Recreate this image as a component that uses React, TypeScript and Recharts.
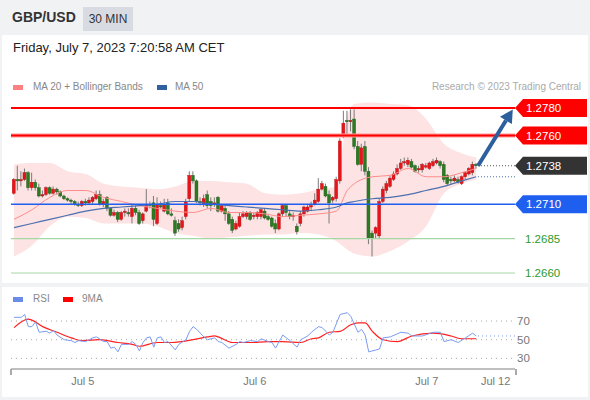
import React from 'react';
import { ComposedChart, Bar, Line, Area, XAxis, YAxis, ReferenceLine } from 'recharts';

const FONT = 'Arial, "Liberation Sans", Helvetica, sans-serif';

// 30 min candles [open, high, low, close]
const candles: number[][] = [
  [1.2718, 1.2729, 1.2717, 1.2728], [1.2728, 1.2738, 1.272, 1.2727], [1.2727, 1.2734, 1.2723, 1.2728],
  [1.2728, 1.2736, 1.2727, 1.2733], [1.2733, 1.2734, 1.272, 1.2722], [1.2722, 1.2733, 1.272, 1.2726],
  [1.2726, 1.2728, 1.272, 1.2722], [1.2722, 1.2725, 1.2715, 1.2716], [1.2716, 1.272, 1.2715, 1.2717],
  [1.2717, 1.2723, 1.2716, 1.2722], [1.2722, 1.2723, 1.2717, 1.2718], [1.2718, 1.2723, 1.2717, 1.2721],
  [1.2721, 1.2722, 1.2717, 1.2719], [1.2719, 1.272, 1.2715, 1.2716], [1.2716, 1.2717, 1.2713, 1.2714],
  [1.2714, 1.2715, 1.2712, 1.2713], [1.2713, 1.2714, 1.271, 1.2712], [1.2712, 1.2713, 1.2709, 1.271],
  [1.271, 1.2712, 1.2708, 1.2709], [1.2709, 1.2713, 1.2708, 1.2712], [1.2712, 1.2714, 1.2709, 1.2711],
  [1.2711, 1.2715, 1.271, 1.2713], [1.2712, 1.2716, 1.271, 1.2715], [1.2714, 1.272, 1.2713, 1.2717],
  [1.2717, 1.272, 1.2709, 1.271], [1.271, 1.2714, 1.2708, 1.2712], [1.2715, 1.2716, 1.2705, 1.2707],
  [1.2707, 1.2708, 1.2701, 1.2702], [1.2702, 1.2706, 1.2701, 1.2704], [1.2704, 1.2705, 1.2697, 1.2699],
  [1.2699, 1.2705, 1.2698, 1.2704], [1.2704, 1.2707, 1.2701, 1.2705], [1.2704, 1.2707, 1.2701, 1.2703],
  [1.2701, 1.271, 1.2696, 1.2707], [1.2707, 1.2709, 1.2702, 1.2704], [1.2704, 1.2706, 1.2695, 1.2696],
  [1.2698, 1.2704, 1.2696, 1.2703], [1.2705, 1.2721, 1.2704, 1.271], [1.271, 1.2712, 1.2707, 1.2709],
  [1.2711, 1.2716, 1.2694, 1.2699], [1.2696, 1.2715, 1.2695, 1.271], [1.2709, 1.2712, 1.2707, 1.2708],
  [1.2705, 1.2714, 1.2704, 1.271], [1.2711, 1.2714, 1.2702, 1.2703], [1.2703, 1.2707, 1.2701, 1.2702],
  [1.2698, 1.2701, 1.2687, 1.2689], [1.2696, 1.2699, 1.269, 1.2692], [1.2693, 1.2701, 1.2691, 1.2698],
  [1.2701, 1.2714, 1.2699, 1.2712], [1.2714, 1.2734, 1.2712, 1.2731], [1.2731, 1.2734, 1.2725, 1.2727],
  [1.2727, 1.2728, 1.2711, 1.2712], [1.2712, 1.2715, 1.2709, 1.2711], [1.271, 1.2717, 1.2708, 1.2714],
  [1.2717, 1.272, 1.2707, 1.2709], [1.2712, 1.2715, 1.2705, 1.2709], [1.271, 1.2715, 1.2708, 1.2711],
  [1.2715, 1.2716, 1.2704, 1.2705], [1.2705, 1.271, 1.2704, 1.2709], [1.2707, 1.2709, 1.2698, 1.2703],
  [1.2703, 1.2705, 1.2695, 1.2696], [1.2699, 1.2701, 1.2689, 1.2691], [1.2692, 1.2698, 1.2691, 1.2696],
  [1.2694, 1.2704, 1.2693, 1.2701], [1.2701, 1.2705, 1.27, 1.2703], [1.2701, 1.2705, 1.2699, 1.2704],
  [1.2704, 1.2705, 1.2698, 1.2699], [1.2701, 1.2704, 1.2699, 1.2702], [1.2701, 1.2705, 1.2699, 1.2704],
  [1.2701, 1.2707, 1.2699, 1.2706], [1.2705, 1.2707, 1.2699, 1.27], [1.2701, 1.2703, 1.2698, 1.2699],
  [1.27, 1.2701, 1.2693, 1.2694], [1.2696, 1.2699, 1.2689, 1.2692], [1.2692, 1.2704, 1.2691, 1.2703],
  [1.2703, 1.271, 1.2701, 1.2709], [1.2709, 1.271, 1.2701, 1.2704], [1.2703, 1.2705, 1.2699, 1.2701],
  [1.2701, 1.2704, 1.2698, 1.2702], [1.2694, 1.2696, 1.2688, 1.269], [1.2696, 1.2705, 1.2694, 1.2703],
  [1.2703, 1.2709, 1.2701, 1.2708], [1.2705, 1.271, 1.2704, 1.2708], [1.2708, 1.2712, 1.2705, 1.2709],
  [1.271, 1.2718, 1.2709, 1.2713], [1.2712, 1.2729, 1.2711, 1.2721], [1.2721, 1.2727, 1.272, 1.2725],
  [1.2723, 1.2725, 1.2715, 1.2716], [1.2717, 1.272, 1.2696, 1.2711], [1.2713, 1.2716, 1.2711, 1.2715],
  [1.2714, 1.273, 1.2712, 1.2728], [1.2727, 1.2758, 1.2725, 1.2756], [1.276, 1.2778, 1.2758, 1.2769],
  [1.2771, 1.2778, 1.276, 1.277], [1.277, 1.2779, 1.2763, 1.2771], [1.2772, 1.2779, 1.275, 1.2752],
  [1.2752, 1.2756, 1.2738, 1.2739], [1.2739, 1.2754, 1.2734, 1.2751], [1.2752, 1.2756, 1.2731, 1.2734],
  [1.2734, 1.2737, 1.2681, 1.2685], [1.2689, 1.2691, 1.2672, 1.2685], [1.2689, 1.2694, 1.2685, 1.2693],
  [1.2687, 1.2714, 1.2685, 1.2712], [1.2712, 1.2723, 1.2711, 1.2721], [1.272, 1.2727, 1.2718, 1.2725],
  [1.2723, 1.2731, 1.2722, 1.2729], [1.2728, 1.2734, 1.2727, 1.2732], [1.2732, 1.2739, 1.2731, 1.2736],
  [1.2736, 1.2743, 1.2735, 1.274], [1.274, 1.2744, 1.2738, 1.2741], [1.2739, 1.2744, 1.2737, 1.2742],
  [1.2741, 1.2743, 1.2736, 1.2737], [1.2738, 1.2739, 1.2733, 1.2734], [1.2735, 1.2738, 1.2733, 1.2736],
  [1.2735, 1.274, 1.2733, 1.2739], [1.2737, 1.274, 1.2736, 1.2738], [1.2736, 1.2741, 1.2735, 1.274],
  [1.2738, 1.2743, 1.2737, 1.2741], [1.274, 1.2744, 1.2739, 1.2742], [1.2741, 1.2742, 1.2736, 1.2738],
  [1.2739, 1.2741, 1.2726, 1.2728], [1.2731, 1.2732, 1.2724, 1.2725], [1.2728, 1.273, 1.2725, 1.2727],
  [1.2727, 1.2731, 1.2726, 1.2729], [1.2728, 1.273, 1.2725, 1.2726], [1.2725, 1.2731, 1.2724, 1.273],
  [1.273, 1.2734, 1.2728, 1.2733], [1.2732, 1.2737, 1.2731, 1.2736], [1.2733, 1.2741, 1.2731, 1.2739],
  [1.2739, 1.274, 1.2736, 1.2738],
];

// indicator readings at these candle indexes
const bandIdx = [0, 5, 10, 15, 20, 25, 30, 35, 40, 45, 50, 55, 60, 65, 70, 75, 80, 85, 90, 93, 95, 100, 105, 110, 115, 120, 125, 129];
const bbUpper = [1.2739, 1.274, 1.274, 1.2734, 1.2732, 1.2725, 1.2723, 1.2722, 1.2721, 1.2723, 1.2727, 1.2727, 1.2726, 1.2725, 1.2718, 1.2717, 1.2718, 1.2721, 1.2723, 1.2774, 1.2783, 1.2784, 1.2783, 1.2782, 1.2772, 1.2754, 1.2747, 1.2744];
const bbLower = [1.2672, 1.268, 1.2694, 1.2701, 1.27, 1.2696, 1.2696, 1.2696, 1.2694, 1.2689, 1.2687, 1.2685, 1.2686, 1.2687, 1.2688, 1.2688, 1.2689, 1.2688, 1.2683, 1.2677, 1.2674, 1.2672, 1.2676, 1.2683, 1.2694, 1.2718, 1.2725, 1.2728];
const ma20 = [1.2699, 1.2706, 1.2715, 1.272, 1.272, 1.2715, 1.2712, 1.2709, 1.2707, 1.2705, 1.2704, 1.2707, 1.2704, 1.2704, 1.2703, 1.2701, 1.2702, 1.2703, 1.2705, 1.272, 1.2725, 1.273, 1.2731, 1.2736, 1.273, 1.273, 1.2733, 1.2736];
const ma50 = [1.2693, 1.2696, 1.2699, 1.2702, 1.2705, 1.2707, 1.2708, 1.2709, 1.271, 1.2712, 1.2712, 1.271, 1.2709, 1.2708, 1.2707, 1.2706, 1.2705, 1.2706, 1.2708, 1.2711, 1.2712, 1.2714, 1.2715, 1.2717, 1.272, 1.2723, 1.2727, 1.273];

// [candle index, value]
const rsiPoints = [
  [0, 74], [2, 74], [3, 77], [4, 64], [5, 64], [6, 69], [7, 58], [9, 59], [10, 57], [11, 60], [12, 55], [14, 50],
  [16, 49], [17, 47], [18, 49], [20, 48], [22, 52], [23, 53], [25, 48], [26, 48], [27, 41], [28, 42], [29, 37],
  [30, 45], [32, 45], [33, 48], [34, 45], [35, 38], [36, 47], [37, 52], [38, 53], [39, 42], [40, 52], [41, 53],
  [42, 47], [43, 48], [45, 39], [46, 45], [48, 50], [49, 59], [50, 64], [51, 61], [53, 53], [54, 50], [56, 52],
  [57, 48], [58, 47], [60, 41], [62, 45], [63, 48], [64, 47], [66, 49], [68, 48], [69, 51], [71, 48], [72, 47],
  [73, 41], [75, 55], [77, 49], [79, 42], [80, 50], [82, 54], [83, 58], [85, 64], [86, 63], [88, 55], [89, 58],
  [91, 77], [93, 79], [94, 75], [96, 58], [97, 61], [98, 55], [99, 37], [101, 39], [102, 40], [103, 52], [105, 53],
  [108, 58], [110, 57], [111, 54], [114, 54], [117, 58], [119, 58], [120, 48], [122, 50], [124, 47], [126, 52],
  [128, 57], [129, 54],
];
const rsiMa9 = [
  [0, 63], [4, 72], [5, 71], [8, 64], [12, 58], [16, 52], [19, 49], [24, 50], [29, 47], [33, 45], [35, 43],
  [40, 47], [44, 47], [50, 50], [54, 53], [56, 54], [57, 53], [61, 47], [66, 47], [71, 48], [75, 48], [80, 47],
  [83, 51], [85, 52], [88, 58], [91, 59], [94, 66], [96, 68], [98, 68], [100, 59], [103, 50], [107, 48],
  [111, 54], [117, 57], [122, 54], [125, 51], [129, 51],
];

const dayTicks = [19.2, 67.2, 115.2, 134.4];
const dayLabels = ['Jul 5', 'Jul 6', 'Jul 7', 'Jul 12'];

const resistances = [1.278, 1.276];
const pivot = 1.271;
const lastPrice = 1.2738;
const supports = [1.2685, 1.266];
const target = 1.2779;

const X_DOMAIN: [number, number] = [-0.84, 139.82];
const LAST = candles.length - 1;

const priceRows: any[] = candles.map(([o, h, l, c], i) => ({ i, o, h, l, c, range: [l, h] }));
bandIdx.forEach((idx, k) => {
  Object.assign(priceRows[idx], { band: [bbLower[k], bbUpper[k]], ma20: ma20[k], ma50: ma50[k] });
});

const rsiRows: any[] = candles.map((_, i) => ({ i }));
rsiPoints.forEach(([i, v]) => { rsiRows[i].rsi = v; });
rsiMa9.forEach(([i, v]) => { rsiRows[i].ma9 = v; });

const Candle = (props: any) => {
  const { x, y, width, height, payload } = props;
  const { o, h, l, c } = payload;
  const top = Math.min(y, y + height);
  const full = Math.abs(height);
  const k = h === l ? 0 : full / (h - l);
  const cx = x + width / 2;
  const bodyTop = top + (h - Math.max(o, c)) * k;
  const bodyH = Math.max(1, Math.abs(o - c) * k);
  const up = c >= o;
  return (
    <g>
      <line x1={cx} x2={cx} y1={top} y2={top + full} stroke="#7a7a7a" strokeWidth={1} />
      <rect x={x} y={bodyTop} width={width} height={bodyH} fill={up ? '#e8141c' : '#2c7a22'} stroke={up ? '#b01010' : '#1f5a18'} strokeWidth={0.4} />
    </g>
  );
};

const PriceTag = (props: any) => {
  const { viewBox, text, bg } = props;
  if (!viewBox) return null;
  const x = viewBox.x + viewBox.width;
  const y = viewBox.y;
  return (
    <g>
      <path d={`M${x} ${y} L${x + 8} ${y - 9} L${x + 72} ${y - 9} L${x + 72} ${y + 9} L${x + 8} ${y + 9} Z`} fill={bg} />
      <text x={x + 11} y={y + 4} fill="#fff" fontSize={11.5} fontFamily={FONT}>{text}</text>
    </g>
  );
};

const SideText = (props: any) => {
  const { viewBox, text, color, dx } = props;
  if (!viewBox) return null;
  return (
    <text x={viewBox.x + viewBox.width + dx} y={viewBox.y + 4} fill={color} fontSize={11.5} fontFamily={FONT}>{text}</text>
  );
};

const Arrow = (props: any) => {
  const { x1, y1, x2, y2 } = props;
  const len = Math.hypot(x2 - x1, y2 - y1);
  const ux = (x2 - x1) / len;
  const uy = (y2 - y1) / len;
  const bx = x2 - ux * 13;
  const by = y2 - uy * 13;
  return (
    <g>
      <line x1={x1} y1={y1} x2={bx} y2={by} stroke="#2d5e9e" strokeWidth={4} />
      <polygon points={`${x2},${y2} ${bx - uy * 7},${by + ux * 7} ${bx + uy * 7},${by - ux * 7}`} fill="#2d5e9e" />
    </g>
  );
};

const legendText: React.CSSProperties = { position: 'absolute', fontSize: 10, color: '#888', lineHeight: '12px' };
const swatch = (left: number, top: number, color: string): React.CSSProperties => ({
  position: 'absolute', left, top, width: 10, height: 5, background: color,
});

export default function App() {
  return (
    <div style={{ position: 'absolute', left: 0, top: 0, width: 590, height: 400, background: '#f1f2f4', fontFamily: FONT, overflow: 'hidden' }}>
      <div style={{ position: 'absolute', left: 2, top: 35, width: 586, height: 248, background: '#fff' }} />
      <div style={{ position: 'absolute', left: 2, top: 287, width: 586, height: 110, background: '#fff' }} />

      <div style={{ position: 'absolute', left: 12, top: 9, fontSize: 14, fontWeight: 'bold', color: '#333' }}>GBP/USD</div>
      <div style={{ position: 'absolute', left: 83, top: 7, width: 50, height: 24, background: '#d8dce2', color: '#333', fontSize: 12, lineHeight: '24px', textAlign: 'center' }}>30 MIN</div>
      <div style={{ position: 'absolute', left: 13, top: 40, fontSize: 13, color: '#222' }}>Friday, July 7, 2023 7:20:58 AM CET</div>

      <div style={swatch(13, 85, '#ff8080')} />
      <div style={{ ...legendText, left: 33, top: 81 }}>MA 20 + Bollinger Bands</div>
      <div style={swatch(157, 85, '#3060a0')} />
      <div style={{ ...legendText, left: 175, top: 81 }}>MA 50</div>
      <div style={{ ...legendText, right: 9, top: 81, color: '#aaa' }}>Research © 2023 Trading Central</div>

      <div style={swatch(13, 297, '#6a8de8')} />
      <div style={{ ...legendText, left: 33, top: 293 }}>RSI</div>
      <div style={swatch(63, 297, '#ff0000')} />
      <div style={{ ...legendText, left: 82, top: 293 }}>9MA</div>

      <div style={{ position: 'absolute', left: 0, top: 1 }}>
        <ComposedChart width={590} height={290} data={priceRows} margin={{ top: 95, right: 75, bottom: 10, left: 11 }}>
          <XAxis dataKey="i" type="number" domain={X_DOMAIN} hide allowDataOverflow />
          <YAxis type="number" domain={[1.265418, 1.278873]} hide allowDataOverflow />
          <Area dataKey="band" type="monotone" stroke="none" fill="#fde3e3" fillOpacity={1} connectNulls activeDot={false} isAnimationActive={false} />
          <Line dataKey="ma20" type="monotone" stroke="#ff8c8c" strokeWidth={1} dot={false} connectNulls isAnimationActive={false} />
          <Line dataKey="ma50" type="monotone" stroke="#4a70b0" strokeWidth={1.2} dot={false} connectNulls isAnimationActive={false} />
          <Bar dataKey="range" barSize={3} shape={(p: any) => <Candle {...p} />} isAnimationActive={false} />

          <ReferenceLine y={supports[0]} stroke="#a6d8a6" strokeWidth={1.2} label={<SideText text={supports[0].toFixed(4)} color="#2e9a2e" dx={10} />} />
          <ReferenceLine y={supports[1]} stroke="#a6d8a6" strokeWidth={1.2} label={<SideText text={supports[1].toFixed(4)} color="#2e9a2e" dx={10} />} />
          <ReferenceLine y={pivot} stroke="#1f5ff0" strokeWidth={1.4} label={<PriceTag text={pivot.toFixed(4)} bg="#1f5ff0" />} />
          <ReferenceLine y={resistances[1]} stroke="#ff9a9a" strokeWidth={4} />
          <ReferenceLine y={resistances[1]} stroke="#ff0000" strokeWidth={2} label={<PriceTag text={resistances[1].toFixed(4)} bg="#ff0000" />} />
          <ReferenceLine y={resistances[0]} stroke="#ff0000" strokeWidth={2} label={<PriceTag text={resistances[0].toFixed(4)} bg="#ff0000" />} />
          <ReferenceLine segment={[{ x: LAST + 0.5, y: lastPrice }, { x: X_DOMAIN[1], y: lastPrice }]} stroke="#555" strokeDasharray="1 2" />
          <ReferenceLine y={lastPrice} stroke="none" label={<PriceTag text={lastPrice.toFixed(4)} bg="#333333" />} />
          <ReferenceLine segment={[{ x: LAST + 0.5, y: ma50[ma50.length - 1] }, { x: X_DOMAIN[1], y: ma50[ma50.length - 1] }]} stroke="#4a70b0" strokeDasharray="1 2" />
          <ReferenceLine segment={[{ x: LAST + 0.5, y: lastPrice }, { x: 139.2, y: target }]} shape={(p: any) => <Arrow {...p} />} />
        </ComposedChart>
      </div>

      <div style={{ position: 'absolute', left: 0, top: 285 }}>
        <ComposedChart width={590} height={112} data={rsiRows} margin={{ top: 20, right: 75, bottom: 0, left: 11 }}>
          <XAxis
            dataKey="i" type="number" domain={X_DOMAIN} allowDataOverflow height={28}
            ticks={dayTicks} interval={0}
            tickFormatter={(v: number) => dayLabels[dayTicks.indexOf(v)]}
            axisLine={{ stroke: '#aaa', strokeWidth: 1.5 }} tickLine={false}
            tick={{ fontSize: 11, fill: '#777', fontFamily: FONT }}
          />
          <YAxis type="number" domain={[18.6, 87.2]} hide allowDataOverflow />
          {[70, 50, 30].map((v) => (
            <ReferenceLine key={v} y={v} stroke="#aaa" strokeDasharray="1 4" label={<SideText text={String(v)} color="#777" dx={2} />} />
          ))}
          <Line dataKey="ma9" type="monotone" stroke="#ff2020" strokeWidth={1.2} dot={false} connectNulls isAnimationActive={false} />
          <Line dataKey="rsi" type="linear" stroke="#7b9cf0" strokeWidth={1} dot={false} connectNulls isAnimationActive={false} />
          <ReferenceLine segment={[{ x: LAST + 0.5, y: 54 }, { x: X_DOMAIN[1], y: 54 }]} stroke="#7b9cf0" strokeDasharray="1 3" />
        </ComposedChart>
      </div>
      <div style={{ position: 'absolute', left: 10, top: 369, width: 1.5, height: 6, background: '#aaa' }} />
      <div style={{ position: 'absolute', left: 515, top: 369, width: 1.5, height: 6, background: '#aaa' }} />
    </div>
  );
}
